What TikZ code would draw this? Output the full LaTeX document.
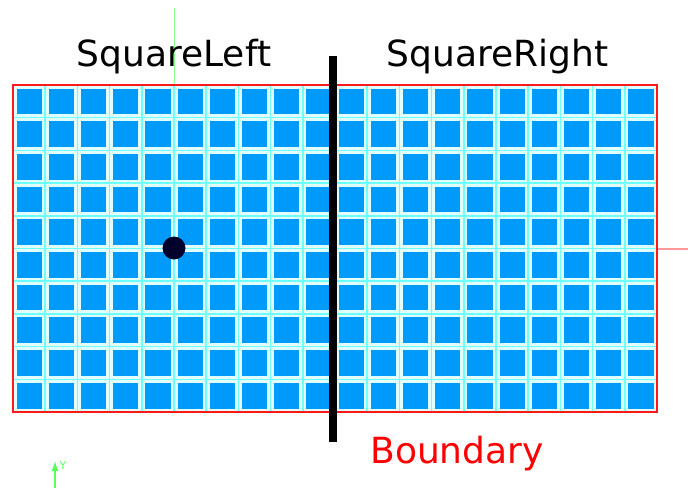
\documentclass[tikz,border=0pt]{standalone}
\usepackage{fontspec}
\setmainfont{DejaVu Sans}
\usetikzlibrary{arrows.meta}
\definecolor{cellblue}{RGB}{0,155,250}
\definecolor{gridcyan}{RGB}{110,255,255}
\definecolor{dotnavy}{RGB}{0,0,45}
\begin{document}
\begin{tikzpicture}[x=1pt, y=-1pt, every node/.style={font=\fontsize{36}{40}\selectfont, inner sep=0pt}]
        \useasboundingbox (0,0) rectangle (688,488);
        \fill[gridcyan!20] (13,85) rectangle (657,412);
        \foreach \i in {1,...,19} \draw[gridcyan, line width=1.5] (13+32.2*\i,85) -- (13+32.2*\i,412);
        \foreach \j in {1,...,9} \draw[gridcyan, line width=1.5] (13,85+32.7*\j) -- (657,85+32.7*\j);
        \foreach \i in {0,...,19} \foreach \j in {0,...,9}
            \fill[cellblue] (16.5+32.2*\i,88.5+32.7*\j) rectangle ++(25.2,25.7);
        \draw[green!45, line width=1] (174,8) -- (174,85);
        \draw[red!40, line width=1.2] (657,249) -- (688,249);
        \draw[red!90, line width=2.5] (13,85) rectangle (657,412);
        \coordinate (btop) at (333,56);
        \coordinate (bbot) at (333,442);
        \draw[line width=8] (btop) -- (bbot);
        \node[circle, fill=dotnavy, minimum size=23] (dot) at (174,248) {};
        \node[anchor=base] (left) at (174,66.7) {SquareLeft};
        \node[anchor=base] (right) at (497.5,66.7) {SquareRight};
        \node[anchor=base, red] (boundary) at (457,463.3) {Boundary};
        \coordinate (yfoot) at (55,488);
        \coordinate (ytip) at (55,461);
        \draw[green!65, line width=1.2, -{Latex[length=10,width=7]}] (yfoot) -- (ytip);
        \node[green!65, font=\fontsize{11}{12}\selectfont] (ylab) at (63,465) {Y};
    \end{tikzpicture}
\end{document}
